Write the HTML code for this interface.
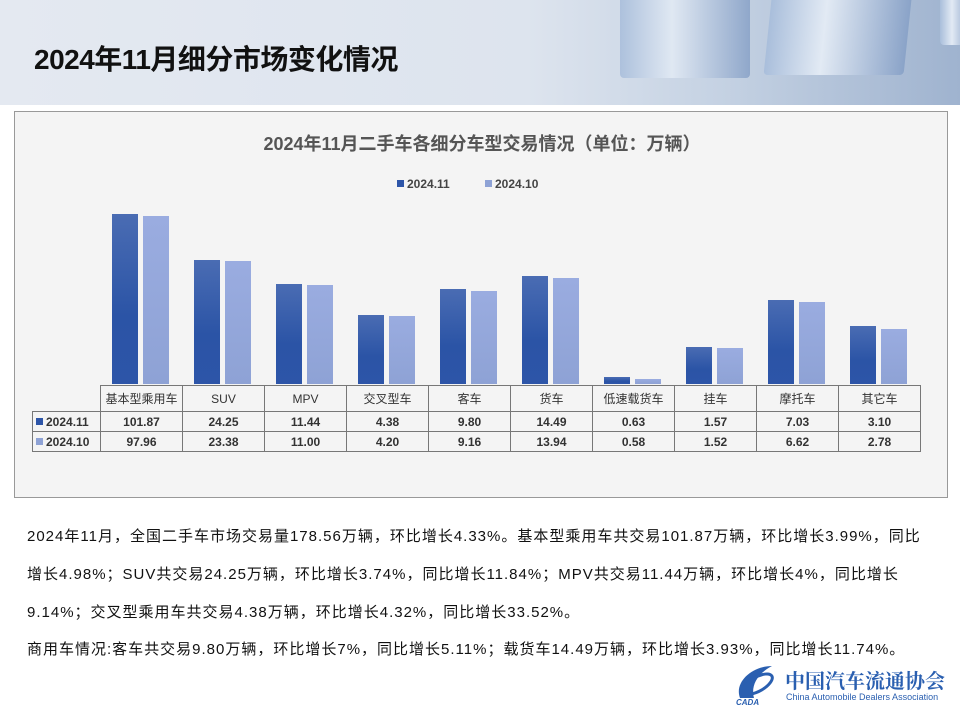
<!DOCTYPE html>
<html><head><meta charset="utf-8"><style>
*{margin:0;padding:0;box-sizing:border-box}
body{width:960px;height:720px;position:relative;background:#fff;font-family:"Liberation Sans","Noto Sans CJK SC",sans-serif;overflow:hidden}
.hdr{position:absolute;left:0;top:0;width:960px;height:105px;background:linear-gradient(90deg,#e4e9f1 0%,#dde4ee 55%,#c5d2e3 75%,#9fb3cf 100%)}
.cube{position:absolute;background:linear-gradient(90deg,#a9bedb,#e2eaf4 40%,#8aa3c8);border-radius:4px}
.ttl{position:absolute;left:34px;top:38px;font-size:28px;font-weight:bold;color:#111;letter-spacing:-0.5px;white-space:nowrap}
.box{position:absolute;left:14px;top:111px;width:934px;height:387px;background:#f4f4f4;border:1px solid #999}
.ct{position:absolute;left:0;width:934px;top:18px;text-align:center;font-size:18px;font-weight:bold;color:#555}
.lg{position:absolute;top:65px;font-size:12px;font-weight:bold;color:#444}
.sw{display:inline-block;width:7px;height:7px;margin-right:3px;vertical-align:1px}
.b{position:absolute;width:26px;bottom:113px}
.d{background:linear-gradient(180deg,#4a6cb3,#2b54a6 60%,#2d55a8)}
.l{background:linear-gradient(180deg,#9aace0,#8ea2d5)}
table{position:absolute;left:17px;top:273px;border-collapse:collapse;font-size:12px;font-weight:bold;color:#333}
td{border:1px solid #777;text-align:center;width:82px;height:20px;padding:0}
tr:first-child td{height:26px;font-weight:normal}
td.h{width:68px;text-align:left;padding-left:3px}
.p{position:absolute;left:27px;font-size:15px;letter-spacing:1px;color:#111;white-space:nowrap}
</style></head><body>
<div class="hdr"></div>
<div class="cube" style="left:620px;top:-10px;width:130px;height:88px;opacity:.9"></div>
<div class="cube" style="left:768px;top:-10px;width:140px;height:85px;transform:skewX(-6deg)"></div>
<div class="cube" style="left:940px;top:-10px;width:30px;height:55px"></div>
<div class="ttl">2024年11月细分市场变化情况</div>
<div class="box">
<div class="ct">2024年11月二手车各细分车型交易情况（单位：万辆）</div>
<div class="lg" style="left:382px"><span class="sw" style="background:#2d55a8"></span>2024.11</div>
<div class="lg" style="left:470px"><span class="sw" style="background:#8ea2d5"></span>2024.10</div>
<div class="b d" style="left:97px;height:170px"></div><div class="b l" style="left:128px;height:168px"></div>
<div class="b d" style="left:179px;height:124px"></div><div class="b l" style="left:210px;height:123px"></div>
<div class="b d" style="left:261px;height:100px"></div><div class="b l" style="left:292px;height:99px"></div>
<div class="b d" style="left:343px;height:69px"></div><div class="b l" style="left:374px;height:68px"></div>
<div class="b d" style="left:425px;height:95px"></div><div class="b l" style="left:456px;height:93px"></div>
<div class="b d" style="left:507px;height:108px"></div><div class="b l" style="left:538px;height:106px"></div>
<div class="b d" style="left:589px;height:7px"></div><div class="b l" style="left:620px;height:5px"></div>
<div class="b d" style="left:671px;height:37px"></div><div class="b l" style="left:702px;height:36px"></div>
<div class="b d" style="left:753px;height:84px"></div><div class="b l" style="left:784px;height:82px"></div>
<div class="b d" style="left:835px;height:58px"></div><div class="b l" style="left:866px;height:55px"></div>
<table>
<tr><td class="h" style="border:none;border-right:1px solid #777"></td><td>基本型乘用车</td><td>SUV</td><td>MPV</td><td>交叉型车</td><td>客车</td><td>货车</td><td>低速载货车</td><td>挂车</td><td>摩托车</td><td>其它车</td></tr>
<tr><td class="h"><span class="sw" style="background:#2d55a8"></span>2024.11</td><td>101.87</td><td>24.25</td><td>11.44</td><td>4.38</td><td>9.80</td><td>14.49</td><td>0.63</td><td>1.57</td><td>7.03</td><td>3.10</td></tr>
<tr><td class="h"><span class="sw" style="background:#8ea2d5"></span>2024.10</td><td>97.96</td><td>23.38</td><td>11.00</td><td>4.20</td><td>9.16</td><td>13.94</td><td>0.58</td><td>1.52</td><td>6.62</td><td>2.78</td></tr>
</table>
</div>
<div class="p" style="top:525px">2024年11月，全国二手车市场交易量178.56万辆，环比增长4.33%。基本型乘用车共交易101.87万辆，环比增长3.99%，同比</div>
<div class="p" style="top:563px">增长4.98%；SUV共交易24.25万辆，环比增长3.74%，同比增长11.84%；MPV共交易11.44万辆，环比增长4%，同比增长</div>
<div class="p" style="top:601px">9.14%；交叉型乘用车共交易4.38万辆，环比增长4.32%，同比增长33.52%。</div>
<div class="p" style="top:638px">商用车情况:客车共交易9.80万辆，环比增长7%，同比增长5.11%；载货车14.49万辆，环比增长3.93%，同比增长11.74%。</div>
<svg style="position:absolute;left:732px;top:662px" width="50" height="44"><path d="M8 36 C2 20 20 4 40 4 C28 10 18 22 22 36 Z" fill="#2a5fb0"/><ellipse cx="26" cy="22" rx="16" ry="7" fill="none" stroke="#2a5fb0" stroke-width="3" transform="rotate(-30 26 22)"/><text x="4" y="43" font-size="8" font-weight="bold" font-style="italic" fill="#2a5fb0">CADA</text></svg>
<div style="position:absolute;left:785px;top:665px;font-family:'Noto Serif CJK SC',serif;font-size:20px;font-weight:bold;color:#2a5fb0;white-space:nowrap">中国汽车流通协会</div>
<div style="position:absolute;left:786px;top:692px;font-size:9px;color:#2a5fb0;white-space:nowrap">China Automobile Dealers Association</div>
</body></html>
